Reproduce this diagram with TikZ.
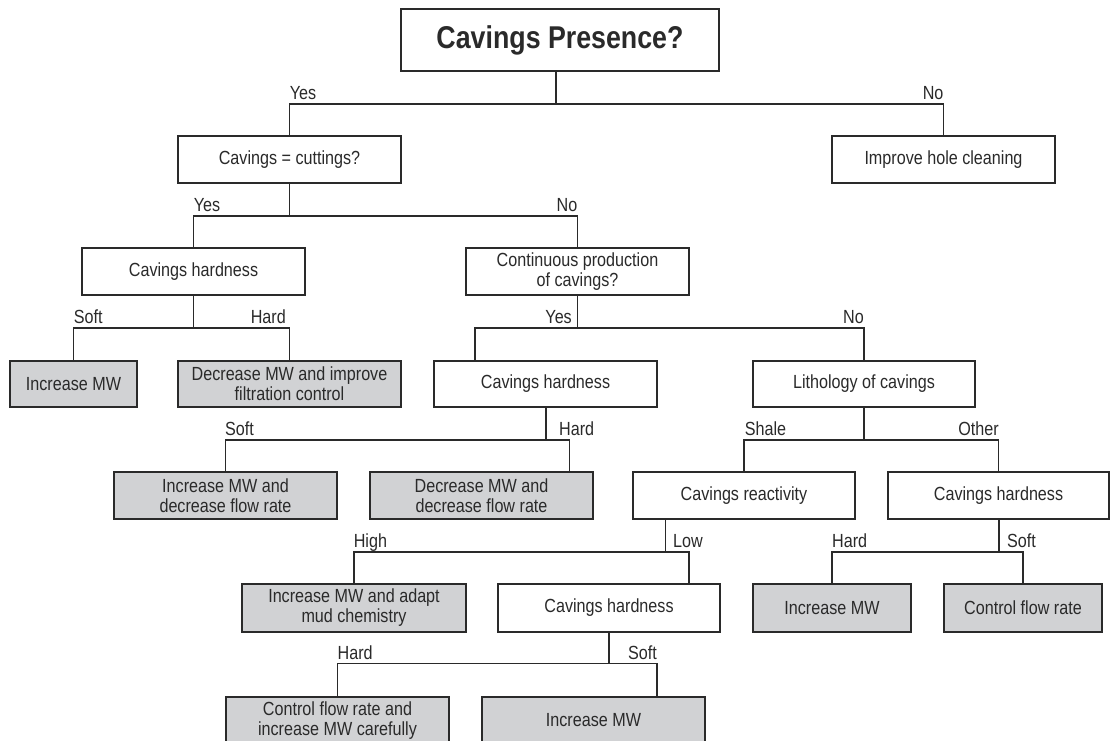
\documentclass[tikz,border=0pt]{standalone}
\usepackage{fontspec}
\setmainfont{Liberation Sans}[FakeStretch=0.85]
\definecolor{boxgray}{HTML}{D1D2D4}
\definecolor{ink}{HTML}{2A2A2A}
\tikzset{
 box/.style={draw=ink, line width=1.3pt, minimum height=47, inner sep=0pt, align=center, text=ink, font=\fontsize{19}{20}\selectfont},
 gbox/.style={box, fill=boxgray},
 conn/.style={draw=ink, line width=1.3pt},
 lab/.style={inner sep=0pt, text=ink, font=\fontsize{19}{20}\selectfont},
}
\begin{document}
\begin{tikzpicture}[x=1pt,y=-1pt]
\clip (0,0) rectangle (1113,740);
\fill[white] (0,0) rectangle (1113,740);
% boxes
\node[box,minimum width=318,minimum height=62,font=\fontsize{31.5}{34}\bfseries\selectfont] (root) at (560,40) {Cavings Presence?};
\node[box,minimum width=223] (cc) at (289.5,159.5) {Cavings = cuttings?};
\node[box,minimum width=223] (ihc) at (943.5,159.5) {Improve hole cleaning};
\node[box,minimum width=223] (ch1) at (193.5,271.5) {Cavings hardness};
\node[box,minimum width=223] (cp) at (577.5,271.5) {Continuous production\\of cavings?};
\node[gbox,minimum width=127,minimum height=46] (imw1) at (73.5,384) {Increase MW};
\node[gbox,minimum width=223,minimum height=46] (dmf) at (289.5,384) {Decrease MW and improve\\filtration control};
\node[box,minimum width=223,minimum height=46] (ch2) at (545.5,384) {Cavings hardness};
\node[box,minimum width=222,minimum height=46] (lith) at (864,384) {Lithology of cavings};
\node[gbox,minimum width=223] (imdf) at (225.5,495.5) {Increase MW and\\decrease flow rate};
\node[gbox,minimum width=223] (dmdf) at (481.5,495.5) {Decrease MW and\\decrease flow rate};
\node[box,minimum width=222] (cr) at (744,495.5) {Cavings reactivity};
\node[box,minimum width=221] (ch3) at (998.5,495.5) {Cavings hardness};
\node[gbox,minimum width=224,minimum height=48] (imac) at (354,608) {Increase MW and adapt\\mud chemistry};
\node[box,minimum width=222,minimum height=48] (ch4) at (609,608) {Cavings hardness};
\node[gbox,minimum width=158,minimum height=48] (imw2) at (832,608) {Increase MW};
\node[gbox,minimum width=158,minimum height=48] (cfr) at (1023,608) {Control flow rate};
\node[gbox,minimum width=223] (cfim) at (337.5,720.5) {Control flow rate and\\increase MW carefully};
\node[gbox,minimum width=223] (imw3) at (593.5,720.5) {Increase MW};
% connectors
\coordinate (j1) at (556,104);
\draw[conn] (root.south -| j1) -- (j1);
\draw[conn] (cc.north) |- (j1) -| (ihc.north);
\coordinate (j2) at (289.5,216);
\draw[conn] (cc.south) -- (j2);
\draw[conn] (ch1.north) |- (j2) -| (cp.north);
\coordinate (j3) at (193.5,328);
\draw[conn] (ch1.south) -- (j3);
\draw[conn] (imw1.north) |- (j3) -| (dmf.north);
\coordinate (j4) at (577.5,328);
\coordinate (k4) at (475,328);
\draw[conn] (cp.south) -- (j4);
\draw[conn] (ch2.north -| k4) -- (k4) -- (j4) -| (lith.north);
\coordinate (j5) at (546,440);
\coordinate (k5) at (569.6,440);
\draw[conn] (ch2.south -| j5) -- (j5);
\draw[conn] (imdf.north) |- (j5) -- (k5) -- (dmdf.north -| k5);
\coordinate (j6) at (864,440);
\draw[conn] (lith.south) -- (j6);
\draw[conn] (cr.north) |- (j6) -| (ch3.north);
\coordinate (j7) at (665.5,552);
\coordinate (k7) at (689,552);
\draw[conn] (cr.south -| j7) -- (j7);
\draw[conn] (imac.north) |- (j7) -- (k7) -- (ch4.north -| k7);
\coordinate (j8) at (999,552);
\draw[conn] (ch3.south -| j8) -- (j8);
\draw[conn] (imw2.north) |- (j8) -| (cfr.north);
\coordinate (j9) at (609,663.5);
\coordinate (k9) at (657,663.5);
\draw[conn] (ch4.south) -- (j9);
\draw[conn] (cfim.north) |- (j9) -- (k9) -- (imw3.north -| k9);
% labels
\node[lab, anchor=base west] (l1) at (289.6,99.5) {Yes};
\node[lab, anchor=base east] (l2) at (943.6,99.5) {No};
\node[lab, anchor=base west] (l3) at (193.6,211.5) {Yes};
\node[lab, anchor=base east] (l4) at (577.5,211.5) {No};
\node[lab, anchor=base west] (l5) at (73.6,323.5) {Soft};
\node[lab, anchor=base east] (l6) at (286,323.5) {Hard};
\node[lab, anchor=base east] (l7) at (572,323.5) {Yes};
\node[lab, anchor=base east] (l8) at (864,323.5) {No};
\node[lab, anchor=base west] (l9) at (225,435.5) {Soft};
\node[lab, anchor=base west] (l10) at (559,435.5) {Hard};
\node[lab, anchor=base west] (l11) at (744.6,435.5) {Shale};
\node[lab, anchor=base east] (l12) at (999,435.5) {Other};
\node[lab, anchor=base west] (l13) at (353.6,547.5) {High};
\node[lab, anchor=base west] (l14) at (673,547.5) {Low};
\node[lab, anchor=base west] (l15) at (832,547.5) {Hard};
\node[lab, anchor=base west] (l16) at (1007,547.5) {Soft};
\node[lab, anchor=base west] (l17) at (337.5,659) {Hard};
\node[lab, anchor=base east] (l18) at (657,659) {Soft};
\end{tikzpicture}
\end{document}
